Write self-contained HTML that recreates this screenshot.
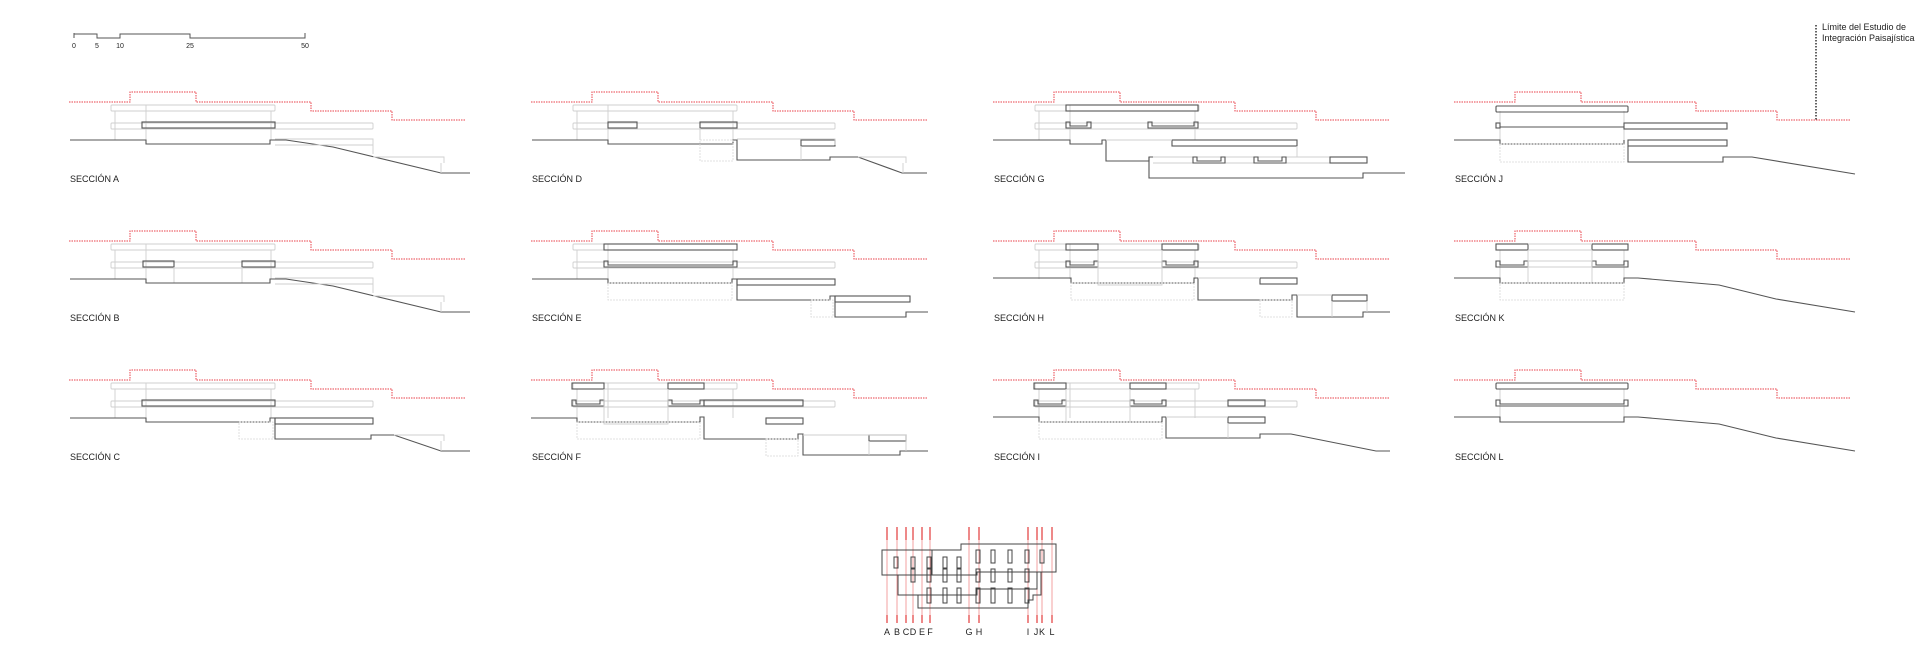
<!DOCTYPE html>
<html><head><meta charset="utf-8"><style>
html,body{margin:0;padding:0;background:#fff;}
svg{display:block;}
text{font-family:"Liberation Sans",sans-serif;fill:#222;}
.r{fill:none;stroke:#e8404a;stroke-width:1;stroke-dasharray:1.5 1;}
.l{fill:none;stroke:#cfcfcf;stroke-width:0.9;}
.ld{fill:none;stroke:#d8d8d8;stroke-width:0.8;stroke-dasharray:2 1;}
.d{fill:none;stroke:#555;stroke-width:1.1;}
.dr{fill:none;stroke:#555;stroke-width:1.1;}
.lb{font-size:9px;}
</style></head><body>
<svg width="1920" height="656" viewBox="0 0 1920 656" xmlns="http://www.w3.org/2000/svg">
<defs>
<g id="red"><path class="r" d="M0,102 H61 V92 H127 V102 H242 V111 H323 V120 H396"/></g>
<g id="baseW">
  <use href="#red"/>
  <rect class="l" x="42" y="105" width="164" height="6" rx="1"/>
  <rect class="l" x="42" y="123" width="262" height="6" rx="1"/>
  <line class="l" x1="46" y1="111" x2="46" y2="140"/>
  <line class="l" x1="77" y1="105" x2="77" y2="140"/>
  <line class="l" x1="202" y1="111" x2="202" y2="140"/>
</g>
<g id="baseN">
  <use href="#red"/>
  <line class="l" x1="46" y1="111" x2="46" y2="140"/>
  <line class="l" x1="170" y1="111" x2="170" y2="140"/>
</g>
</defs>

<!-- scale bar -->
<path d="M74,33 V38 M74,34 H97 V38 H120 V34 H190 V38 H305 V33" fill="none" stroke="#555" stroke-width="1"/>
<g font-size="7" text-anchor="middle"><text x="74" y="48">0</text><text x="97" y="48">5</text><text x="120" y="48">10</text><text x="190" y="48">25</text><text x="305" y="48">50</text></g>

<!-- A -->
<g transform="translate(69,0)">
  <use href="#baseW"/>
  <rect class="dr" x="73" y="122" width="133" height="6"/>
  <path class="d" d="M1,140 H77 V144 H201 V140 H217 L264,147 L372,173 H401"/>
  <path class="l" d="M206,139 H304 V145 H206 M304,145 V154 M304,157 H375 V163 M372,163 V173"/>
  <text class="lb" x="1" y="182">SECCIÓN A</text>
</g>
<!-- B -->
<g transform="translate(69,139)">
  <use href="#baseW"/>
  <rect class="dr" x="74" y="122" width="31" height="6"/>
  <rect class="dr" x="173" y="122" width="33" height="6"/>
  <line class="l" x1="105" y1="128" x2="105" y2="144"/>
  <line class="l" x1="173" y1="128" x2="173" y2="144"/>
  <path class="d" d="M1,140 H77 V144 H201 V140 H217 L264,147 L372,173 H401"/>
  <path class="l" d="M206,139 H304 V145 H206 M304,145 V154 M304,157 H375 V163 M372,163 V173"/>
  <text class="lb" x="1" y="182">SECCIÓN B</text>
</g>
<!-- C -->
<g transform="translate(69,278)">
  <use href="#baseW"/>
  <rect class="dr" x="73" y="122" width="133" height="6"/>
  <path class="d" d="M1,140 H77 V144 H201 V140 H206 V161 H302 V157 H325 L372,173 H401"/>
  <rect class="dr" x="206" y="140" width="98" height="6"/>
  <rect class="ld" x="170" y="144" width="34" height="17"/>
  <path class="l" d="M325,157 H375 V163 M372,163 V173"/>
  <text class="lb" x="1" y="182">SECCIÓN C</text>
</g>

<!-- D -->
<g transform="translate(531,0)">
  <use href="#baseW"/>
  <rect class="dr" x="77" y="122" width="29" height="6"/>
  <rect class="dr" x="169" y="122" width="37" height="6"/>
  <rect class="dr" x="270" y="140" width="34" height="6"/>
  <path class="d" d="M1,140 H77 V144 H202 V140 H206 V160 H299 V157 H327 L371,173 H396"/>
  <path class="l" d="M206,139 H304 V145 M169,128 V140 M270,146 V160 M327,157 H375 V163 M372,163 V173"/>
  <rect class="ld" x="169" y="140" width="33" height="21"/>
  <text class="lb" x="1" y="182">SECCIÓN D</text>
</g>
<!-- E -->
<g transform="translate(531,139)">
  <use href="#baseW"/>
  <rect class="dr" x="73" y="105" width="133" height="6"/>
  <path class="dr" d="M73,122 H77 V126 H202 V122 H206 V128 H73 Z"/>
  <path class="d" d="M1,140 H77 V144 H201 V140 H206 V161 H299 V157 H304 V178 H375 V173 H397"/>
  <rect class="dr" x="206" y="140" width="98" height="6"/>
  <rect class="dr" x="304" y="157" width="75" height="6"/>
  <rect class="ld" x="77" y="144" width="124" height="17"/>
  <rect class="ld" x="280" y="161" width="22" height="17"/>
  <text class="lb" x="1" y="182">SECCIÓN E</text>
</g>
<!-- F -->
<g transform="translate(531,278)">
  <use href="#baseW"/>
  <rect class="dr" x="41" y="105" width="32" height="6"/>
  <rect class="dr" x="137" y="105" width="36" height="6"/>
  <path class="dr" d="M41,122 H45 V126 H69 V122 H73 V128 H41 Z"/>
  <path class="dr" d="M137,122 H141 V126 H169 V122 H173 V128 H137 Z"/>
  <rect class="dr" x="173" y="122" width="99" height="6"/>
  <path class="d" d="M0,140 H46 V144 H169 V139 H173 V161 H267 V156 H272 V177 H369 V173 H397"/>
  <rect class="dr" x="235" y="140" width="37" height="6"/>
  <rect class="dr" x="338" y="157" width="37" height="6"/>
  <rect class="ld" x="46" y="144" width="123" height="17"/>
  <rect class="ld" x="235" y="161" width="32" height="17"/>
  <path class="l" d="M73,111 V146 H137 V111 M272,157 H375 V173 M338,163 V177"/>
  <text class="lb" x="1" y="182">SECCIÓN F</text>
</g>

<!-- G -->
<g transform="translate(993,0)">
  <use href="#baseW"/>
  <rect class="dr" x="73" y="105" width="132" height="6"/>
  <path class="dr" d="M73,122 H77 V126 H94 V122 H98 V128 H73 Z"/>
  <path class="dr" d="M155,122 H159 V126 H201 V122 H205 V128 H155 Z"/>
  <rect class="dr" x="179" y="140" width="125" height="6"/>
  <path class="d" d="M0,140 H77 V144 H109 V140 H113 V161 H156 V157 H160"/>
  <path class="d" d="M156,157 V178 H370 V173 H412"/>
  <path class="l" d="M113,140 H179 M160,157 H374 V163 H160 M304,146 V157"/>
  <path class="dr" d="M200,157 H204 V161 H228 V157 H232 V163 H200 Z"/>
  <path class="dr" d="M261,157 H265 V161 H289 V157 H293 V163 H261 Z"/>
  <rect class="dr" x="337" y="157" width="37" height="6"/>
  <text class="lb" x="1" y="182">SECCIÓN G</text>
</g>
<!-- H -->
<g transform="translate(993,139)">
  <use href="#baseW"/>
  <rect class="dr" x="73" y="105" width="32" height="6"/>
  <rect class="dr" x="169" y="105" width="36" height="6"/>
  <path class="dr" d="M73,122 H77 V126 H101 V122 H105 V128 H73 Z"/>
  <path class="dr" d="M169,122 H173 V126 H201 V122 H205 V128 H169 Z"/>
  <path class="d" d="M0,139 H78 V144 H201 V139 H205 V161 H299 V156 H304 V178 H370 V173 H397"/>
  <rect class="dr" x="267" y="139" width="37" height="6"/>
  <rect class="dr" x="339" y="156" width="35" height="6"/>
  <rect class="ld" x="78" y="144" width="123" height="17"/>
  <rect class="ld" x="267" y="161" width="32" height="17"/>
  <path class="l" d="M105,111 V146 H169 V111 M205,139 H267 M304,156 H339 M339,162 V178 M374,162 V173"/>
  <text class="lb" x="1" y="182">SECCIÓN H</text>
</g>
<!-- I -->
<g transform="translate(993,278)">
  <use href="#baseW"/>
  <rect class="dr" x="41" y="105" width="32" height="6"/>
  <rect class="dr" x="137" y="105" width="36" height="6"/>
  <path class="dr" d="M41,122 H45 V126 H69 V122 H73 V128 H41 Z"/>
  <path class="dr" d="M137,122 H141 V126 H169 V122 H173 V128 H137 Z"/>
  <rect class="dr" x="235" y="122" width="37" height="6"/>
  <path class="d" d="M0,139 H46 V144 H169 V139 H173 V160 H267 V156 H298 L383,173 H397"/>
  <rect class="dr" x="235" y="139" width="37" height="6"/>
  <rect class="ld" x="46" y="144" width="123" height="17"/>
  <path class="l" d="M73,111 V144 M137,111 V144 M173,139 H235 M235,145 V160"/>
  <text class="lb" x="1" y="182">SECCIÓN I</text>
</g>

<!-- J -->
<g transform="translate(1454,0)">
  <use href="#baseN"/>
  <rect class="dr" x="42" y="106" width="132" height="6" rx="1"/>
  <rect class="dr" x="42" y="123" width="4" height="5"/>
  <line class="d" x1="46" y1="127" x2="170" y2="127"/>
  <rect class="dr" x="170" y="123" width="103" height="6"/>
  <path class="d" d="M0,140 H46 V144 H170 V140"/>
  <rect class="dr" x="174" y="140" width="99" height="6"/>
  <path class="d" d="M174,146 V162 H269 V157 H298 L401,174"/>
  <rect class="ld" x="46" y="144" width="124" height="18"/>
  <text class="lb" x="1" y="182">SECCIÓN J</text>
</g>
<line x1="1816" y1="25" x2="1816" y2="121" stroke="#111" stroke-width="1.3" stroke-dasharray="1.5 1.5"/>
<text x="1822" y="30" font-size="9">Límite del Estudio de</text>
<text x="1822" y="41" font-size="9">Integración Paisajística</text>
<!-- K -->
<g transform="translate(1454,139)">
  <use href="#baseN"/>
  <rect class="dr" x="42" y="105" width="32" height="6"/>
  <rect class="dr" x="138" y="105" width="36" height="6"/>
  <path class="dr" d="M42,122 H46 V126 H70 V122 H74 V128 H42 Z"/>
  <path class="dr" d="M138,122 H142 V126 H170 V122 H174 V128 H138 Z"/>
  <path class="l" d="M74,105 H138 M74,111 H138 M74,122 H138 M74,128 H138 M74,111 V144 M138,111 V144"/>
  <path class="d" d="M0,139 H46 V144 H170 V139 H184 L265,146 L322,160 L401,173"/>
  <rect class="ld" x="46" y="144" width="124" height="17"/>
  <text class="lb" x="1" y="182">SECCIÓN K</text>
</g>
<!-- L -->
<g transform="translate(1454,278)">
  <use href="#baseN"/>
  <rect class="dr" x="42" y="105" width="132" height="6" rx="1"/>
  <path class="dr" d="M42,122 H46 V126 H170 V122 H174 V128 H42 Z"/>
  <path class="d" d="M0,139 H46 V144 H170 V139 H184 L265,146 L322,160 L401,173"/>
  <text class="lb" x="1" y="182">SECCIÓN L</text>
</g>

<!-- plan -->
<g>
  <g stroke="#e23b3b" stroke-width="1.2">
    <path d="M887,527V540M897,527V540M906,527V540M913,527V540M922,527V540M930,527V540M969,527V540M979,527V540M1028,527V540M1037,527V540M1042,527V540M1052,527V540"/>
    <path d="M887,615V623M897,615V623M906,615V623M913,615V623M922,615V623M930,615V623M969,615V623M979,615V623M1028,615V623M1037,615V623M1042,615V623M1052,615V623"/>
  </g>
  <g stroke="#f08a8a" stroke-width="0.8">
    <path d="M887,540V615M897,540V615M906,540V615M913,540V615M922,540V615M930,540V615M969,540V615M979,540V615M1028,540V615M1037,540V615M1042,540V615M1052,540V615"/>
  </g>
  <g fill="none" stroke="#444" stroke-width="1">
    <path d="M882,550 H961 V544 H1056 V572 H1041 V595 H1033 V600 H1028 V608 H918 V595 H898 V575 H882 Z"/>
    <path d="M932,550 V575 M898,575 H977 V572 H1041 M918,595 H977 V589 H1037 V572"/>
    <g>
      <rect x="894" y="557" width="4" height="11"/><rect x="911" y="557" width="4" height="11"/><rect x="927" y="557" width="4" height="11"/><rect x="943" y="557" width="4" height="11"/><rect x="957" y="557" width="4" height="11"/>
      <rect x="976" y="550" width="4" height="13"/><rect x="991" y="550" width="4" height="13"/><rect x="1008" y="550" width="4" height="13"/><rect x="1025" y="550" width="4" height="13"/><rect x="1040" y="550" width="4" height="13"/>
      <rect x="911" y="569" width="4" height="13"/><rect x="927" y="569" width="4" height="13"/><rect x="943" y="569" width="4" height="13"/><rect x="957" y="569" width="4" height="13"/><rect x="976" y="569" width="4" height="13"/><rect x="991" y="569" width="4" height="13"/><rect x="1008" y="569" width="4" height="13"/><rect x="1025" y="569" width="4" height="13"/>
      <rect x="927" y="588" width="4" height="15"/><rect x="943" y="588" width="4" height="15"/><rect x="957" y="588" width="4" height="15"/><rect x="976" y="588" width="4" height="15"/><rect x="991" y="588" width="4" height="15"/><rect x="1008" y="588" width="4" height="15"/><rect x="1025" y="588" width="4" height="15"/>
    </g>
  </g>
  <g font-size="9" text-anchor="middle">
    <text x="887" y="635">A</text><text x="897" y="635">B</text><text x="906" y="635">C</text><text x="913" y="635">D</text><text x="922" y="635">E</text><text x="930" y="635">F</text><text x="969" y="635">G</text><text x="979" y="635">H</text><text x="1028" y="635">I</text><text x="1036" y="635">J</text><text x="1042" y="635">K</text><text x="1052" y="635">L</text>
  </g>
</g>
</svg>
</body></html>
